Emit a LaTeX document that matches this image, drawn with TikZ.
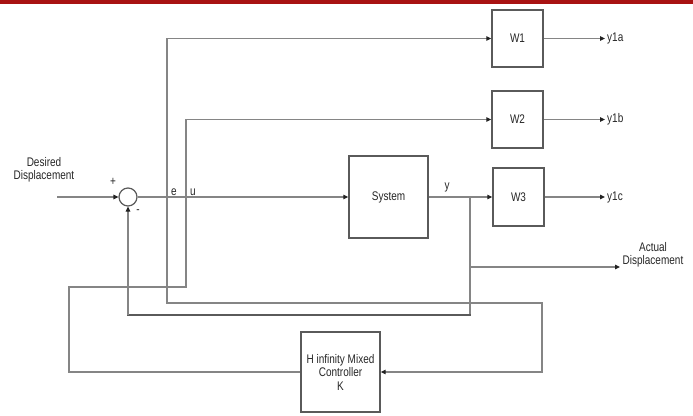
\documentclass[tikz,border=0pt]{standalone}
\usepackage{fontspec}
\setmainfont{Liberation Sans}[FakeStretch=0.8]
\usetikzlibrary{arrows.meta}
\definecolor{band}{HTML}{A81212}
\definecolor{linec}{HTML}{858585}
\definecolor{boxc}{HTML}{5A5A5A}
\definecolor{txtc}{HTML}{262626}
\definecolor{tipc}{HTML}{222222}
\tikzset{
  blk/.style={draw=boxc, line width=1.4pt, rectangle, inner sep=0pt, align=center, text=txtc},
  wire/.style={draw=linec, line width=1.2pt},
  sig/.style={wire, -{Triangle[length=5pt,width=4.5pt,color=tipc]}},
  lbl/.style={text=txtc, inner sep=1pt, align=center},
}
\begin{document}
\begin{tikzpicture}[x=1pt,y=-1pt,font=\fontsize{12.5}{13.5}\selectfont]
\useasboundingbox (0,0) rectangle (693,415);
\fill[band] (0,0) rectangle (693,4);

% blocks
\node[draw=boxc, line width=1.2pt, circle, minimum size=18pt, inner sep=0pt] (sum) at (128,197) {};
\node[blk, minimum width=79pt, minimum height=82pt] (sys) at (388.5,197) {System};
\node[blk, minimum width=51pt, minimum height=57pt] (w1) at (517.5,38.5) {W1};
\node[blk, minimum width=51pt, minimum height=57pt] (w2) at (517.5,119.5) {W2};
\node[blk, minimum width=51pt, minimum height=58pt] (w3) at (518.5,197) {W3};
\node[blk, minimum width=79pt, minimum height=80pt] (k) at (340.5,372) {H infinity Mixed\\Controller\\K};

% coordinates
\coordinate (in) at (57,197);
\coordinate (e) at (167,197);
\coordinate (u) at (186,197);
\coordinate (yb) at (470,197);
\coordinate (ya) at (470,267);
\coordinate (out1) at (605,38.5);
\coordinate (out2) at (605,119.5);
\coordinate (out3) at (605,197);
\coordinate (outa) at (620,267);

% main path
\draw[sig] (in) -- (sum.west);
\draw[sig] (sum.east) -- (sys.west);
\draw[sig] (sys.east) -- (w3.west);
\draw[sig] (w1.east) -- (out1);
\draw[sig] (w2.east) -- (out2);
\draw[sig] (w3.east) -- (out3);

% e branch
\draw[sig] (e) |- (w1.west);
\draw[sig] (e) -- (167,303) -- (542,303) |- (k.east);
% u branch
\draw[sig] (u) |- (w2.west);
\draw[wire] (u) -- (186,287) -- (69,287) |- (k.west);
% y feedback
\draw[wire] (yb) -- (470,315);
\draw[draw=boxc, line width=2.2pt] (470.5,315) -- (127.4,315);
\draw[sig] (128,315) -- (sum.south);
\draw[sig] (ya) -- (outa);

% labels
\node[lbl] at (44,170) {Desired\\Displacement};
\node[lbl] at (653,255) {Actual\\Displacement};
\node[lbl] at (113,182) {+};
\node[lbl] at (138,212) {-};
\node[lbl] at (174,192) {e};
\node[lbl] at (193,192) {u};
\node[lbl] at (447,187) {y};
\node[lbl, anchor=west] at (606,38.5) {y1a};
\node[lbl, anchor=west] at (606,119.5) {y1b};
\node[lbl, anchor=west] at (606,197) {y1c};
\end{tikzpicture}
\end{document}
